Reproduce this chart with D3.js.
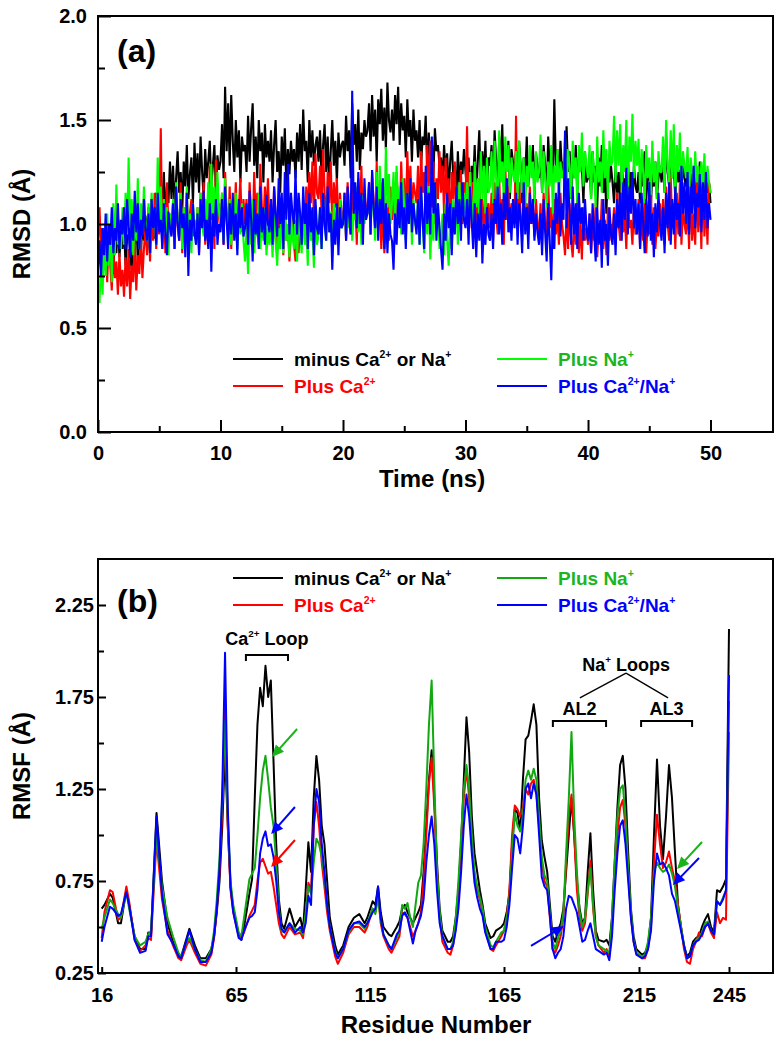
<!DOCTYPE html>
<html><head><meta charset="utf-8">
<script src="https://cdn.jsdelivr.net/npm/d3@7"></script>
<style>body{margin:0;background:#fff}svg{display:block;font-family:"Liberation Sans",Arial,sans-serif}</style>
</head><body>
<svg id="c" width="781" height="1050"></svg>
<script>
// ---------------- DATA ----------------
const seriesLabels = [["minus Ca","^2+"," or Na","^+"],["Plus Ca","^2+"],["Plus Na","^+"],["Plus Ca","^2+","/Na","^+"]];
const lineColorsA = ["#000000","#ff0000","#00ff00","#0000ff"];
const lineColorsB = ["#000000","#ff0000","#12a812","#0000ff"];
const textColors  = ["#000000","#ff0000","#1db51d","#0000ff"];

// Panel (a): RMSD, time 0..50 ns, step 0.125 ns (one row = 2 ns)
const timeStart = 0, timeStep = 0.125;
const rmsdMinus = [
0.80,0.92,0.85,0.98,0.78,0.90,0.95,0.82,1.00,0.88,0.76,0.94,0.86,1.02,0.84,0.96,
0.88,0.99,0.80,0.93,1.03,0.85,0.78,0.97,0.90,1.05,0.82,0.95,0.87,1.00,0.92,1.04,
0.95,1.08,0.90,1.12,1.00,0.93,1.15,1.05,0.98,1.20,1.08,1.25,1.02,1.18,1.10,1.30,
1.12,1.28,1.08,1.22,1.35,1.15,1.25,1.06,1.30,1.18,1.38,1.12,1.24,1.32,1.10,1.39,
1.20,1.34,1.15,1.42,1.25,1.12,1.36,1.22,1.30,1.40,1.18,1.28,1.38,1.15,1.33,1.26,
1.30,1.48,1.22,1.66,1.35,1.58,1.28,1.62,1.40,1.25,1.50,1.32,1.45,1.20,1.42,1.35,
1.38,1.25,1.52,1.30,1.46,1.58,1.28,1.42,1.22,1.50,1.35,1.44,1.20,1.48,1.32,1.40,
1.30,1.45,1.20,1.38,1.50,1.25,1.35,1.15,1.42,1.28,1.46,1.18,1.36,1.24,1.40,1.30,
1.36,1.22,1.44,1.30,1.48,1.26,1.55,1.35,1.40,1.20,1.50,1.32,1.45,1.28,1.38,1.42,
1.30,1.45,1.22,1.38,1.48,1.25,1.42,1.18,1.35,1.50,1.28,1.40,1.20,1.44,1.32,1.38,
1.40,1.28,1.52,1.35,1.45,1.22,1.58,1.38,1.48,1.30,1.55,1.26,1.44,1.36,1.50,1.42,
1.45,1.58,1.35,1.62,1.42,1.55,1.30,1.60,1.48,1.65,1.40,1.56,1.36,1.68,1.50,1.44,
1.55,1.40,1.62,1.48,1.66,1.38,1.58,1.45,1.52,1.32,1.60,1.42,1.50,1.30,1.55,1.40,
1.45,1.32,1.50,1.28,1.42,1.38,1.52,1.25,1.44,1.30,1.40,1.22,1.46,1.35,1.38,1.28,
1.32,1.20,1.38,1.25,1.34,1.15,1.30,1.40,1.22,1.28,1.12,1.35,1.18,1.30,1.24,1.36,
1.25,1.15,1.32,1.08,1.28,1.20,1.38,1.12,1.30,1.45,1.18,1.35,1.22,1.40,1.15,1.32,
1.28,1.38,1.20,1.45,1.30,1.15,1.42,1.25,1.48,1.18,1.35,1.28,1.40,1.12,1.36,1.30,
1.25,1.35,1.15,1.40,1.28,1.10,1.32,1.22,1.42,1.18,1.30,1.25,1.38,1.12,1.34,1.28,
1.22,1.35,1.15,1.38,1.28,1.12,1.42,1.25,1.32,1.20,1.60,1.28,1.36,1.18,1.40,1.25,
1.30,1.18,1.47,1.25,1.35,1.12,1.30,1.22,1.38,1.15,1.32,1.25,1.28,1.10,1.35,1.20,
1.22,1.30,1.12,1.35,1.20,1.28,1.08,1.32,1.18,1.38,1.15,1.25,1.05,1.30,1.20,1.28,
1.20,1.10,1.28,1.15,1.25,1.05,1.30,1.18,1.22,1.08,1.32,1.15,1.25,1.12,1.28,1.18,
1.15,1.25,1.10,1.30,1.18,1.35,1.12,1.22,1.28,1.08,1.25,1.18,1.30,1.12,1.22,1.28,
1.20,1.30,1.15,1.42,1.25,1.18,1.35,1.22,1.28,1.12,1.32,1.20,1.26,1.15,1.30,1.22,
1.18,1.25,1.10,1.28,1.15,1.22,1.05,1.26,1.18,1.30,1.12,1.22,1.08,1.25,1.15,1.20,
1.10];
const rmsdCa = [
0.92,1.08,0.85,0.98,0.78,0.90,0.72,0.95,0.80,0.68,0.88,0.74,0.82,0.66,0.86,0.70,
0.78,0.65,0.84,0.70,0.88,0.64,0.80,0.72,0.92,0.68,0.85,0.76,0.95,0.74,0.88,0.98,
0.85,1.00,0.82,1.08,0.92,1.15,0.88,1.02,0.95,1.46,0.90,1.12,0.86,1.20,0.98,1.05,
0.95,1.10,0.88,1.18,1.00,0.92,1.20,0.86,1.08,0.98,1.15,0.90,1.05,1.12,0.94,1.02,
0.92,1.08,0.86,1.15,1.00,1.20,0.90,1.05,0.95,1.28,1.02,1.12,0.88,1.31,1.00,1.10,
0.98,1.15,0.90,1.25,1.05,0.95,1.18,0.88,1.10,1.02,1.20,0.92,1.08,1.22,0.96,1.12,
1.00,1.12,0.92,1.20,1.05,0.95,1.25,1.02,1.15,0.90,1.29,1.08,0.98,1.18,1.05,1.22,
0.98,1.10,0.90,1.18,1.02,0.88,1.08,0.95,1.12,0.85,1.05,0.92,1.00,0.82,0.96,1.05,
0.90,0.82,0.98,0.86,1.02,0.92,1.10,0.95,1.18,1.05,1.25,1.10,1.30,1.02,1.34,1.15,
1.12,1.28,1.05,1.36,1.15,1.00,1.25,1.10,1.30,0.98,1.20,1.08,1.22,0.95,1.15,1.05,
1.00,1.15,0.92,1.20,1.05,0.95,1.25,1.02,1.12,0.90,1.22,1.00,1.28,0.96,1.15,1.08,
1.05,1.20,0.95,1.25,1.10,0.98,1.30,1.02,1.15,0.88,1.08,0.86,1.00,1.12,0.92,1.18,
1.02,1.20,0.95,1.25,1.10,1.00,1.30,1.08,1.22,0.98,1.35,1.12,1.28,1.05,1.20,1.15,
1.10,1.28,1.02,1.35,1.15,1.25,1.05,1.38,1.18,1.40,1.08,1.30,1.00,1.22,1.12,1.35,
1.15,1.28,1.05,1.32,1.10,1.22,0.98,1.25,1.12,1.30,1.02,1.18,1.08,1.26,1.00,1.20,
1.10,1.47,1.05,1.25,0.98,1.20,1.08,1.15,0.95,1.22,1.02,1.12,0.92,1.18,1.00,1.10,
0.98,1.15,0.92,1.20,1.05,0.95,1.22,1.00,1.12,0.90,1.28,1.02,1.18,0.96,1.10,1.05,
1.00,1.52,0.98,1.20,1.05,0.92,1.15,1.02,1.10,0.95,1.18,1.00,1.08,0.94,1.12,1.00,
0.96,1.10,0.90,1.15,1.00,0.92,1.20,0.98,1.08,0.88,1.12,0.95,1.05,0.90,1.15,1.00,
0.94,0.85,1.05,0.88,1.10,0.92,0.84,1.02,0.90,1.15,0.86,1.00,0.83,1.08,0.92,0.98,
0.90,1.05,0.86,1.00,0.92,1.10,0.84,0.98,0.94,1.12,0.88,1.02,0.85,1.08,0.92,1.00,
0.95,1.08,0.90,1.15,1.00,0.92,1.18,0.96,1.05,0.88,1.12,0.98,1.02,0.90,1.10,0.95,
0.98,1.12,0.88,1.05,0.92,1.15,0.86,1.02,0.95,1.18,0.90,1.08,0.88,1.00,0.94,1.10,
0.96,1.12,0.90,1.18,1.00,0.92,1.23,0.98,1.10,0.88,1.15,0.95,1.20,0.90,1.08,1.00,
0.95,1.10,0.88,1.18,0.92,1.05,0.90,1.22,0.96,1.15,0.88,1.25,0.94,1.12,0.90,1.20,
1.15];
const rmsdNa = [
0.70,0.62,0.85,0.66,0.95,0.75,1.05,0.80,0.98,0.72,1.10,0.85,1.19,0.90,1.02,0.88,
1.08,0.90,1.15,0.95,1.32,0.98,1.12,0.85,1.05,0.92,1.22,0.88,1.10,0.95,1.18,1.00,
0.92,1.10,0.86,1.15,0.98,1.05,0.90,1.32,1.00,1.18,0.88,1.12,0.95,1.08,0.85,1.05,
0.98,1.12,0.90,1.20,1.02,0.94,1.15,0.88,1.08,0.96,1.18,0.90,1.05,0.86,1.10,0.98,
0.92,1.08,0.88,1.15,1.00,0.94,1.12,1.02,1.20,0.95,1.29,1.05,1.18,0.98,1.25,1.06,
1.00,1.15,0.92,1.22,1.02,0.96,1.12,0.90,1.08,0.98,1.15,0.88,1.05,0.95,1.10,0.92,
0.82,0.98,0.76,1.05,0.90,1.12,0.86,1.00,0.94,1.15,0.88,1.02,0.92,1.08,0.85,0.98,
0.90,1.02,0.84,1.05,0.92,0.80,0.98,0.88,1.06,0.86,1.10,0.92,1.00,0.84,1.05,0.94,
0.88,1.02,0.82,1.06,0.95,0.86,1.08,0.90,1.00,0.80,1.10,0.92,0.98,0.79,1.04,0.90,
0.95,1.08,0.88,1.12,1.00,0.92,1.15,0.96,1.06,0.85,1.10,0.94,1.02,0.90,1.12,0.98,
1.00,1.12,0.94,1.08,0.98,1.15,0.92,1.05,1.02,1.18,0.96,1.10,0.90,1.14,1.00,1.08,
1.05,1.18,0.95,1.22,1.06,0.92,1.25,1.02,1.28,1.10,1.20,0.98,1.37,1.08,1.24,1.00,
1.10,1.25,1.00,1.28,1.05,1.18,0.95,1.22,1.08,0.92,1.15,1.02,1.20,0.90,1.12,1.00,
0.98,1.12,0.90,1.15,1.02,0.86,1.08,0.95,1.18,0.83,1.05,0.92,1.20,1.00,1.10,0.88,
0.95,1.05,0.85,1.10,0.92,0.80,1.02,0.88,1.12,0.95,1.15,0.90,1.20,1.00,1.08,1.15,
1.05,1.20,1.00,1.25,1.10,0.95,1.30,1.08,1.22,1.02,1.35,1.12,1.28,1.05,1.32,1.15,
1.18,1.35,1.10,1.40,1.22,1.05,1.45,1.20,1.30,1.12,1.42,1.25,1.38,1.15,1.32,1.24,
1.20,1.35,1.12,1.40,1.25,1.15,1.32,1.08,1.28,1.18,1.38,1.22,1.30,1.10,1.35,1.20,
1.25,1.43,1.15,1.35,1.22,1.08,1.30,1.18,1.38,1.05,1.28,1.20,1.36,1.12,1.30,1.22,
1.25,1.42,1.15,1.36,1.28,1.12,1.40,1.22,1.32,1.10,1.38,1.25,1.44,1.18,1.35,1.28,
1.22,1.38,1.12,1.35,1.25,1.08,1.42,1.20,1.30,1.15,1.45,1.22,1.36,1.12,1.40,1.28,
1.30,1.52,1.20,1.45,1.28,1.48,1.15,1.38,1.25,1.50,1.12,1.42,1.30,1.53,1.22,1.40,
1.28,1.41,1.15,1.36,1.25,1.10,1.38,1.22,1.32,1.14,1.40,1.20,1.30,1.12,1.35,1.25,
1.25,1.42,1.15,1.50,1.28,1.18,1.45,1.22,1.48,1.12,1.38,1.25,1.44,1.15,1.35,1.28,
1.22,1.37,1.12,1.32,1.25,1.15,1.35,1.20,1.28,1.10,1.30,1.18,1.34,1.12,1.28,1.20,
1.15];
const rmsdCaNa = [
0.78,0.92,0.75,0.98,0.85,1.05,0.82,1.00,0.90,1.08,0.86,0.98,0.92,1.10,0.88,1.02,
0.95,1.08,0.88,1.12,0.98,0.84,1.05,0.92,1.16,0.96,1.10,0.88,1.02,0.94,1.12,0.98,
0.92,1.05,0.86,1.12,0.98,1.08,0.90,1.15,0.96,1.02,0.88,1.10,0.95,0.85,1.06,0.98,
0.94,1.10,0.88,1.18,1.00,0.92,1.12,0.98,1.05,0.84,1.15,0.75,1.02,0.92,1.10,0.96,
0.90,1.05,0.85,1.12,0.98,1.16,0.92,1.02,0.88,1.10,0.77,1.05,0.94,1.12,0.90,1.00,
0.96,1.12,0.90,1.18,1.02,0.88,1.10,0.95,1.15,0.92,1.05,0.85,1.12,0.98,1.08,0.94,
0.98,1.10,0.90,1.16,1.02,0.82,1.12,0.95,1.05,0.88,1.18,0.96,1.08,0.90,1.14,1.00,
0.96,1.12,0.90,1.18,1.05,0.94,1.22,1.00,1.15,0.88,1.25,1.02,1.29,0.95,1.15,1.05,
1.00,1.26,0.95,1.15,1.05,0.90,1.18,1.00,1.10,0.88,1.15,0.96,1.08,0.85,1.12,0.98,
0.95,1.08,0.88,1.15,1.00,0.92,1.18,0.96,1.05,0.78,1.02,0.90,1.10,0.85,1.08,0.98,
1.00,1.15,0.92,1.18,1.04,0.95,1.64,1.05,1.20,0.98,1.25,1.00,1.15,0.90,1.22,1.02,
1.05,1.20,0.95,1.26,1.08,0.98,1.18,0.92,1.12,1.00,1.22,0.88,1.10,0.86,1.05,0.95,
0.92,0.78,1.05,0.90,1.12,0.98,1.20,0.95,1.08,0.88,1.15,1.00,1.22,0.96,1.10,1.02,
0.95,1.12,0.90,1.18,1.02,0.88,1.28,1.00,1.15,0.95,1.42,1.05,1.20,0.92,1.10,0.98,
0.88,0.78,1.05,0.92,1.15,0.98,1.10,0.85,1.08,0.95,1.18,1.00,1.12,0.92,1.20,1.02,
0.98,1.12,0.90,1.18,1.02,0.88,1.10,0.84,1.05,0.92,1.12,0.81,1.00,0.90,1.08,0.95,
0.92,1.05,0.88,1.12,1.00,1.18,0.95,1.10,0.90,1.15,1.02,1.22,0.96,1.08,0.92,1.12,
0.98,1.15,0.90,1.10,1.02,0.86,1.20,0.95,1.08,0.88,1.15,1.00,1.12,0.92,1.05,0.96,
0.90,1.05,0.85,1.12,0.96,0.82,1.10,0.92,0.73,1.02,0.88,1.15,1.00,1.20,0.94,1.10,
1.02,1.45,0.98,1.22,1.05,0.90,1.18,0.95,1.10,0.88,1.15,1.00,1.08,0.92,1.12,0.98,
0.92,1.05,0.86,1.10,0.96,0.82,1.08,0.90,1.02,0.79,1.12,0.92,1.00,0.80,1.08,0.95,
0.90,1.05,0.85,1.12,0.98,1.15,0.92,1.20,1.02,1.27,0.95,1.18,1.05,1.25,0.98,1.12,
0.95,1.10,0.88,1.15,1.00,0.86,1.12,0.94,1.20,0.92,1.05,0.84,1.10,0.96,1.15,1.00,
0.92,1.08,0.86,1.15,0.98,1.20,0.90,1.12,0.95,1.18,1.02,1.10,0.94,1.28,1.05,1.20,
1.00,1.25,0.95,1.18,1.05,1.28,0.98,1.15,1.08,1.24,0.96,1.20,1.02,1.25,0.98,1.10,
1.02];

const timeMajorTicks = [0,10,20,30,40,50];
const timeMinorTicks = [5,15,25,35,45];
const rmsdMajorTicks = [0,0.5,1.0,1.5,2.0];
const rmsdMinorTicks = [0.25,0.75,1.25,1.75];

// Panel (b): RMSF per residue
const residues = [
16,17,19,20,22,23,25,26,28,30, 32,33,34,36,38,40,42,44,45,47,
48,50,52,54,56,57,58,59,60,61, 62,63,64,66,67,68,70,71,72,73,
74,75,76,77,78,79,80,81,82,83, 85,87,89,90,91,92,93,94,95,96,
97,98,99,100,102,103,105,107,109,111, 113,114,116,117,118,119,120,122,123,125,
126,127,128,129,130,131,132,133,134,135, 136,137,138,139,140,141,142,144,145,146,
147,148,149,150,151,152,153,154,155,156, 157,158,160,161,162,164,165,166,167,168,
169,170,171,172,173,174,175,176,177,178, 179,180,181,182,183,184,185,186,187,188,
189,190,191,192,193,194,195,196,197,198, 199,200,202,203,204,205,206,207,208,209,
210,211,212,213,214,216,217,218,219,220, 221,222,223,224,225,226,227,228,229,230,
231,232,233,234,235,236,237,238,239,240, 241,242,243,244,245];
const rmsfMinus = [
.60,.62,.68,.66,.52,.52,.70,.62,.45,.38, .38,.47,.46,1.12,.75,.52,.42,.35,.34,.44,
.49,.40,.33,.33,.38,.45,.58,.75,1.05,1.45, 1.05,.72,.60,.46,.43,.50,.68,.76,1.20,1.60,
1.80,1.70,1.92,1.75,1.84,1.40,.95,.65,.52,.49, .60,.50,.55,.48,.70,.96,.80,1.20,1.43,1.30,
1.05,.95,.75,.55,.40,.35,.40,.50,.55,.57, .52,.55,.64,.62,.72,.58,.50,.46,.45,.50,
.53,.60,.62,.58,.55,.52,.55,.58,.62,.80, 1.05,1.30,1.46,1.20,.85,.60,.48,.42,.42,.45,
.55,.70,.95,1.30,1.64,1.45,1.10,.90,.80,.70, .62,.52,.44,.45,.48,.50,.52,.58,.68,.95,
1.14,1.12,1.02,1.30,1.52,1.54,1.62,1.71,1.60,1.20, .97,.88,.80,.62,.45,.42,.48,.52,.60,.80,
1.00,1.20,1.00,.75,.60,.52,.55,.80,1.01,.70, .48,.43,.42,.43,.40,.55,.85,1.15,1.38,1.43,
1.25,.90,.60,.45,.38,.35,.36,.40,.55,1.00, 1.41,1.05,.87,1.10,1.38,1.20,.90,.62,.50,.40,
.34,.36,.42,.44,.45,.50,.54,.57,.50,.47, .70,.69,.72,.76,2.12];
const rmsfCa = [
.44,.58,.70,.69,.54,.55,.72,.64,.43,.37, .40,.44,.43,.97,.65,.48,.40,.33,.32,.40,
.43,.36,.30,.29,.35,.44,.60,.80,1.15,1.72, 1.05,.70,.58,.45,.44,.47,.56,.59,.62,.75,
.85,.87,.83,.79,.80,.72,.62,.52,.46,.44, .50,.46,.47,.44,.55,.74,.70,1.05,1.18,1.05,
.85,.72,.58,.48,.34,.30,.36,.46,.50,.50, .47,.50,.60,.58,.68,.52,.45,.38,.36,.42,
.45,.58,.57,.55,.50,.45,.48,.52,.58,.75, 1.00,1.28,1.42,1.15,.80,.55,.42,.36,.35,.40,
.50,.68,.95,1.20,1.36,1.20,.95,.78,.70,.65, .58,.48,.38,.37,.40,.45,.48,.55,.70,1.00,
1.16,1.14,1.10,1.15,1.25,1.22,1.28,1.30,1.22,1.05, .85,.75,.72,.55,.38,.36,.40,.45,.55,.85,
1.10,1.22,1.00,.70,.55,.48,.52,.68,.86,.60, .45,.40,.36,.38,.34,.50,.78,1.00,1.15,1.19,
1.05,.80,.56,.42,.36,.33,.33,.38,.50,.85, 1.11,.95,.82,.85,.91,.82,.75,.62,.50,.38,
.31,.30,.38,.42,.47,.45,.50,.52,.47,.44, .58,.52,.55,.54,1.56];
const rmsfNa = [
.49,.55,.65,.63,.57,.55,.69,.60,.45,.40, .42,.46,.48,1.00,.72,.55,.45,.36,.34,.42,
.44,.38,.32,.31,.38,.48,.65,.88,1.20,1.62, 1.10,.75,.62,.47,.45,.55,.76,.79,.82,1.00,
1.20,1.35,1.43,1.30,1.15,1.05,.85,.60,.48,.47, .52,.49,.48,.46,.58,.72,.68,.85,.98,.95,
.88,.78,.62,.50,.37,.33,.38,.47,.52,.52, .49,.52,.60,.57,.66,.54,.46,.40,.38,.44,
.48,.62,.60,.63,.55,.50,.62,.74,.78,.95, 1.25,1.60,1.84,1.30,.80,.58,.45,.38,.38,.42,
.55,.75,1.00,1.25,1.38,1.25,1.00,.80,.72,.66, .60,.50,.40,.39,.42,.47,.48,.55,.65,.90,
1.12,1.05,1.02,1.10,1.30,1.35,1.30,1.36,1.30,1.10, .88,.78,.75,.58,.42,.38,.44,.48,.58,.90,
1.20,1.56,1.10,.80,.58,.50,.55,.70,.82,.62, .45,.40,.38,.37,.36,.55,.85,1.10,1.25,1.27,
1.10,.82,.58,.43,.36,.34,.35,.42,.55,.80, .85,.82,.80,.81,.84,.79,.72,.60,.50,.40,
.33,.34,.40,.43,.44,.47,.52,.53,.48,.46, .64,.62,.66,.70,1.73];
const rmsfCaNa = [
.42,.50,.61,.60,.56,.57,.69,.62,.43,.36, .37,.45,.45,1.10,.68,.46,.41,.34,.33,.43,
.48,.38,.31,.31,.36,.45,.60,.82,1.25,1.99, 1.15,.72,.58,.44,.43,.48,.55,.56,.58,.70,
.90,.98,1.02,.94,.95,.88,.75,.58,.49,.47, .52,.47,.50,.47,.52,.67,.62,1.05,1.25,1.18,
.95,.80,.62,.50,.36,.33,.38,.48,.52,.53, .50,.52,.58,.60,.72,.55,.46,.40,.38,.46,
.48,.56,.58,.55,.48,.41,.48,.52,.56,.65, .85,1.00,1.10,.95,.70,.52,.45,.38,.38,.40,
.48,.60,.80,1.05,1.22,1.10,.90,.74,.66,.60, .56,.47,.38,.38,.42,.42,.43,.50,.62,.82,
1.00,.98,.90,1.05,1.25,1.28,1.20,1.28,1.22,1.00, .77,.72,.70,.56,.38,.33,.36,.38,.45,.60,
.67,.66,.62,.58,.50,.42,.43,.48,.52,.45, .38,.37,.35,.36,.32,.45,.70,.90,1.05,1.08,
.95,.75,.55,.42,.35,.33,.34,.38,.48,.75, .90,.84,.85,.82,.78,.68,.64,.56,.48,.40,
.33,.34,.40,.42,.43,.46,.50,.52,.48,.46, .64,.62,.65,.70,1.87];

const residueTicks = [16,65,115,165,215,245];
const rmsfMajorTicks = [0.25,0.75,1.25,1.75,2.25];
const rmsfMinorTicks = [0.5,1.0,1.5,2.0];

// annotations (data coordinates of panel b)
const arrowsB = [
  {c:2, x1:87.8, y1:1.576, x2:78.4, y2:1.424},
  {c:3, x1:87.0, y1:1.152, x2:78.1, y2:1.005},
  {c:1, x1:87.0, y1:0.973, x2:78.1, y2:0.826},
  {c:2, x1:236.0, y1:0.962, x2:227.7, y2:0.815},
  {c:3, x1:235.0, y1:0.875, x2:226.3, y2:0.728},
  {c:3, x1:175.0, y1:0.397, x2:187.2, y2:0.505}
];
const brackets = [
  {x1:68.7, x2:84.4, y:1.978, label:["Ca","^2+"," Loop"], ly:2.033},
  {x1:183.1, x2:202.8, y:1.62, label:["AL2"], ly:1.652},
  {x1:215.7, x2:232.7, y:1.62, label:["AL3"], ly:1.652}
];
const naLoops = {label:["Na","^+"," Loops"], x:210.2, ly:1.891, apex:1.880, left:193.1, right:224.7, foot:1.745};

// ---------------- DRAW ----------------
const svg = d3.select("#c");
const FONT_TICK = 20;

function rich(g, x, y, parts, size, color, anchor) {
  const t = g.append("text").attr("x", x).attr("y", y)
    .attr("font-size", size).attr("font-weight", "bold")
    .attr("fill", color).attr("text-anchor", anchor || "start");
  let up = false;
  parts.forEach(p => {
    const sup = p.startsWith("^");
    const txt = sup ? p.slice(1) : p;
    const ts = t.append("tspan").text(txt);
    if (sup) {
      ts.attr("font-size", size * 0.55);
      if (!up) { ts.attr("dy", -size * 0.42); up = true; }
    } else if (up) { ts.attr("dy", size * 0.42); up = false; }
  });
  return t;
}

function frame(x, y) {
  const xr = x.range(), yr = y.range();
  const x0 = xr[0], x1 = xr[xr.length - 1], y0 = yr[0], y1 = yr[yr.length - 1];
  svg.append("rect").attr("x", x0).attr("y", y1).attr("width", x1 - x0).attr("height", y0 - y1)
    .attr("fill", "none").attr("stroke", "#000").attr("stroke-width", 2);
}

function styleAxis(g) {
  g.select(".domain").remove();
  g.selectAll(".tick line").attr("stroke", "#000").attr("stroke-width", 2);
  g.selectAll(".tick text").attr("font-size", FONT_TICK).attr("font-weight", "bold")
    .attr("fill", "#000").attr("font-family", "'Liberation Sans',Arial,sans-serif");
}

function axes(x, y, xMaj, xMin, yMaj, yMin, xFmt, yFmt, xLen, yLen, xPad, yPad) {
  const yb = y.range()[0], xl = x.range()[0];
  svg.append("g").attr("transform", `translate(0,${yb})`)
    .call(d3.axisBottom(x).tickValues(xMin).tickSize(-xLen[1]).tickFormat("")).call(styleAxis);
  svg.append("g").attr("transform", `translate(0,${yb})`)
    .call(d3.axisBottom(x).tickValues(xMaj).tickSize(-xLen[0]).tickPadding(xPad).tickFormat(xFmt)).call(styleAxis);
  svg.append("g").attr("transform", `translate(${xl},0)`)
    .call(d3.axisLeft(y).tickValues(yMin).tickSize(-yLen[1]).tickFormat("")).call(styleAxis);
  svg.append("g").attr("transform", `translate(${xl},0)`)
    .call(d3.axisLeft(y).tickValues(yMaj).tickSize(-yLen[0]).tickPadding(yPad).tickFormat(yFmt)).call(styleAxis);
}

function legend(y0, y1, colors) {
  const pos = [[233, y0], [233, y1], [497, y0], [497, y1]];
  seriesLabels.forEach((lab, i) => {
    const [lx, ly] = pos[i];
    svg.append("line").attr("x1", lx).attr("x2", lx + 50).attr("y1", ly).attr("y2", ly)
      .attr("stroke", colors[i]).attr("stroke-width", 2);
    rich(svg, lx + 61, ly + 7, lab, 19, textColors[i]);
  });
}

function axisTitle(text, x, y, rotate) {
  const t = svg.append("text").attr("font-size", 24).attr("font-weight", "bold")
    .attr("text-anchor", "middle").attr("fill", "#000").text(text);
  if (rotate) t.attr("transform", `translate(${x},${y}) rotate(-90)`);
  else t.attr("x", x).attr("y", y);
}

// ----- Panel (a)
const xA = d3.scaleLinear().domain([0, 55.1]).range([98, 773]);
const yA = d3.scaleLinear().domain([0, 2]).range([432, 16]);
svg.append("clipPath").attr("id", "clipA").append("rect")
  .attr("x", 98).attr("y", 16).attr("width", 675).attr("height", 416);
const gA = svg.append("g").attr("clip-path", "url(#clipA)");
const lineA = d3.line().x((d, i) => xA(timeStart + i * timeStep)).y(d => yA(d));
[rmsdMinus, rmsdCa, rmsdNa, rmsdCaNa].forEach((s, i) => {
  gA.append("path").datum(s).attr("d", lineA).attr("fill", "none")
    .attr("stroke", lineColorsA[i]).attr("stroke-width", 2.1).attr("stroke-linejoin", "bevel");
});
frame(xA, yA);
axes(xA, yA, timeMajorTicks, timeMinorTicks, rmsdMajorTicks, rmsdMinorTicks,
  d3.format("d"), d3.format(".1f"), [12, 6], [13, 7], 14, 11);
legend(359, 386, lineColorsA);
svg.append("text").attr("x", 117).attr("y", 62).attr("font-size", 32).attr("font-weight", "bold").text("(a)");
axisTitle("Time (ns)", 432, 487, false);
axisTitle("RMSD (Å)", 30, 224, true);

// ----- Panel (b)
const xB = d3.scaleLinear()
  .domain([15.1, 16, 65, 115, 165, 215, 245, 259.6])
  .range([98, 101.7, 236, 370, 504, 639, 729, 773]);
const yB = d3.scaleLinear().domain([0.25, 2.5]).range([973, 559]);
svg.append("clipPath").attr("id", "clipB").append("rect")
  .attr("x", 98).attr("y", 559).attr("width", 675).attr("height", 414);
const gB = svg.append("g").attr("clip-path", "url(#clipB)");
const lineB = d3.line().x((d, i) => xB(residues[i])).y(d => yB(d));
[rmsfMinus, rmsfCa, rmsfNa, rmsfCaNa].forEach((s, i) => {
  gB.append("path").datum(s).attr("d", lineB).attr("fill", "none")
    .attr("stroke", lineColorsB[i]).attr("stroke-width", 2).attr("stroke-linejoin", "round");
});
frame(xB, yB);
axes(xB, yB, residueTicks, [], rmsfMajorTicks, rmsfMinorTicks,
  d3.format("d"), d3.format(".2f"), [6, 0], [8, 6], 15, 4);
legend(578, 605, lineColorsB);
svg.append("text").attr("x", 117).attr("y", 612).attr("font-size", 32).attr("font-weight", "bold").text("(b)");
axisTitle("Residue Number", 436, 1033, false);
axisTitle("RMSF (Å)", 30, 766, true);

// brackets
brackets.forEach(b => {
  const x1 = xB(b.x1), x2 = xB(b.x2), y = yB(b.y);
  svg.append("path").attr("d", `M${x1},${y + 6}V${y}H${x2}V${y + 6}`)
    .attr("fill", "none").attr("stroke", "#000").attr("stroke-width", 2);
  rich(svg, (x1 + x2) / 2, yB(b.ly), b.label, 18, "#000", "middle");
});
rich(svg, xB(naLoops.x), yB(naLoops.ly), naLoops.label, 18, "#000", "middle");
[naLoops.left, naLoops.right].forEach(r => {
  svg.append("line").attr("x1", xB(naLoops.x)).attr("y1", yB(naLoops.apex))
    .attr("x2", xB(r)).attr("y2", yB(naLoops.foot)).attr("stroke", "#000").attr("stroke-width", 1.3);
});

// arrows
arrowsB.forEach(a => {
  const x1 = xB(a.x1), y1 = yB(a.y1), x2 = xB(a.x2), y2 = yB(a.y2);
  const col = lineColorsB[a.c] === "#12a812" ? "#19b319" : lineColorsB[a.c];
  const dx = x2 - x1, dy = y2 - y1, L = Math.hypot(dx, dy), ux = dx / L, uy = dy / L;
  const hl = 12, hw = 5.5, bx = x2 - ux * hl, by = y2 - uy * hl;
  svg.append("line").attr("x1", x1).attr("y1", y1).attr("x2", bx + ux * 2).attr("y2", by + uy * 2)
    .attr("stroke", col).attr("stroke-width", 2);
  svg.append("path").attr("d", `M${x2},${y2}L${bx - uy * hw},${by + ux * hw}L${bx + uy * hw},${by - ux * hw}Z`)
    .attr("fill", col);
});
</script>
</body></html>
